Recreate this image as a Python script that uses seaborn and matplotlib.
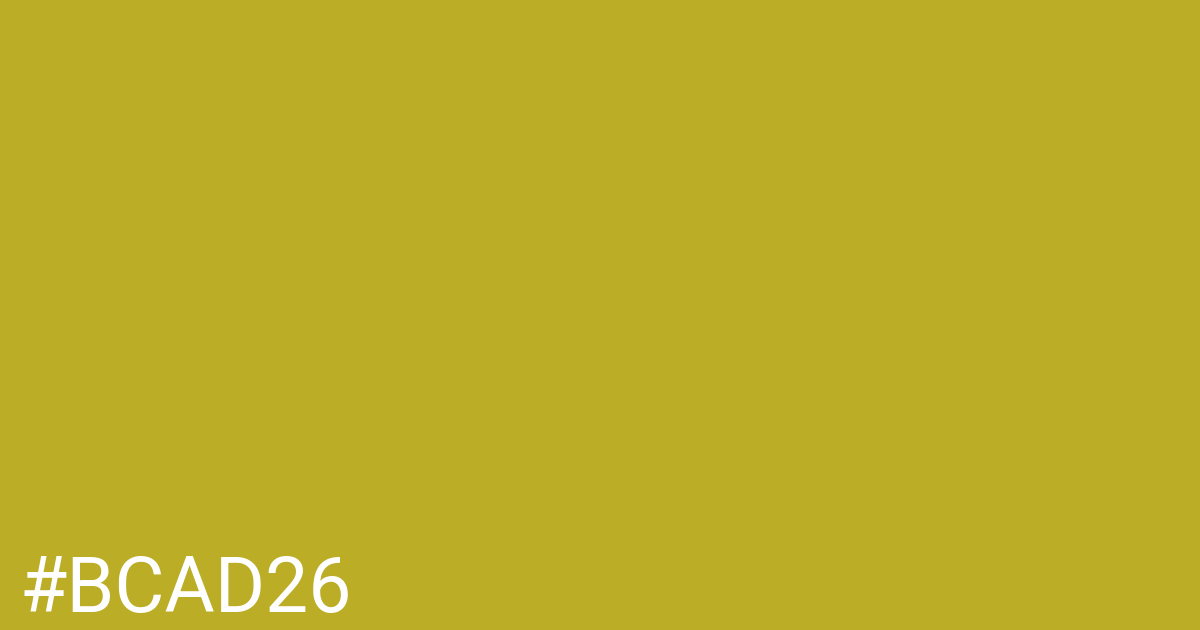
import matplotlib
matplotlib.use("Agg")
import matplotlib.pyplot as plt
from matplotlib.colors import ListedColormap
import numpy as np
import seaborn as sns

# swatch data
swatch_hex = ["#BCAD26"]
swatch_value = [[0]]
label_text = ["#BCAD26"]

sns.set_theme(style="white")
plt.rcParams['font.family'] = ['Roboto', 'DejaVu Sans']

fig = plt.figure(figsize=(12, 6.3), dpi=100)
ax = fig.add_axes([0, 0, 1, 1])

# one cell heatmap fills the whole canvas
sns.heatmap(np.array(swatch_value), cmap=ListedColormap(swatch_hex), cbar=False,
            xticklabels=False, yticklabels=False, ax=ax)
ax.set_axis_off()

# hex label bottom-left
fig.text(20 / 1200, 1 - 612 / 630, label_text[0], color="white",
         fontsize=55.4, ha="left", va="baseline")

fig.savefig("out.png", dpi=100)
